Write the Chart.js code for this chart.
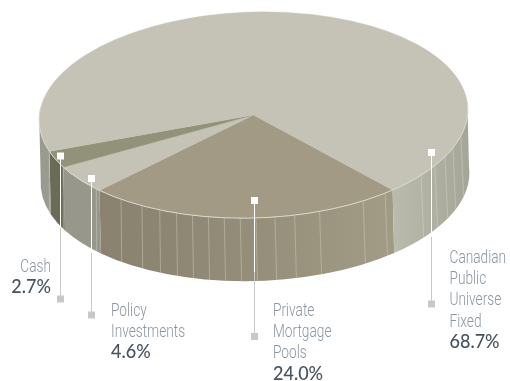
<!DOCTYPE html>
<html>
<head>
<meta charset="utf-8">
<style>
  html, body { margin: 0; padding: 0; background: #fff; }
  canvas { display: block; }
</style>
<script src="https://cdn.jsdelivr.net/npm/chart.js@4"></script>
</head>
<body>
<canvas id="pie" width="510" height="381"></canvas>
<script>
// Asset mix, in clockwise order from the lower-right seam of the disc
const categories = ['Private Mortgage Pools', 'Policy Investments', 'Cash', 'Canadian Public Universe Fixed'];
const shares = [24.0, 4.6, 2.7, 68.7];
const labelLines = [['Private', 'Mortgage', 'Pools'], ['Policy', 'Investments'], ['Cash'], ['Canadian', 'Public', 'Universe', 'Fixed']];
const topColors = ['#a29a85', '#c5c3b5', '#92927a', '#c5c3b5'];

// Disc geometry; the disc leans slightly, right side up, and its base sits a touch to the right
const DISC = { cx: 253.5, cy: 115, rx: 214.5, ry: 103, depth: 63, baseShift: 1.5, tilt: -1.8 * Math.PI / 180 };

// Colour ramps for the disc's side wall, left to right across the disc
const wallRamps = [
  [[0, '#877f6c'], [0.3, '#8d8672'], [0.8, '#a19a85'], [1, '#a19a85']],
  [[0, '#97978b'], [1, '#97978b']],
  [[0, '#6c6c56'], [1, '#6c6c56']],
  [[0, '#9a9b8f'], [0.1, '#9a9b8f'], [0.82, '#bcbcae'], [1, '#a6a698']]
];

// Angles (degrees clockwise from east) of the pale facet lines on the wall
const facetAngles = [129, 122.2, 116.8, 111.9, 107.4, 103, 98.7, 94.4, 90.2, 85.1, 79.8, 72.9, 60.1, 53,
  39.5, 33.1, 27.6, 22.4, 15.6, 138, 153.4, 163.1];

// Callouts: leader line top, where it turns grey, its foot, and the text block
const callouts = [
  { x: 254.5, top: 200.5, turn: 272, foot: 336, textX: 273, align: 'left', base: 316 },
  { x: 91.5, top: 178.5, turn: 253, foot: 314.5, textX: 111, align: 'left', base: 316 },
  { x: 60.5, top: 156, turn: 228, foot: 298.5, textX: 51, align: 'right', base: 272 },
  { x: 431.5, top: 152.5, turn: 237, foot: 303.5, textX: 449.5, align: 'left', base: 263 }
];

const LINE_STEP = 21.2;
const TAU = Math.PI * 2;

function fillEllipseBand(ctx, from, to) {
  const { cx, cy, rx, ry, depth, baseShift, tilt } = DISC;
  ctx.beginPath();
  ctx.ellipse(cx, cy, rx, ry, tilt, from, to, false);
  ctx.ellipse(cx + baseShift, cy + depth, rx, ry, tilt, to, from, true);
  ctx.closePath();
  ctx.fill();
}

function wallGradient(ctx, ramp) {
  const g = ctx.createLinearGradient(DISC.cx - DISC.rx, 0, DISC.cx + DISC.rx, 0);
  ramp.forEach(([stop, colour]) => g.addColorStop(stop, colour));
  return g;
}

function rimPoint(a) {
  const { cx, cy, rx, ry, tilt } = DISC;
  const px = rx * Math.cos(a);
  const py = ry * Math.sin(a);
  return {
    x: cx + px * Math.cos(tilt) - py * Math.sin(tilt),
    y: cy + px * Math.sin(tilt) + py * Math.cos(tilt)
  };
}

function drawWall(chart) {
  const ctx = chart.ctx;
  const arcs = chart.getDatasetMeta(0).data;
  arcs.forEach((arc, i) => {
    const { startAngle, endAngle } = arc.getProps(['startAngle', 'endAngle'], true);
    ctx.fillStyle = wallGradient(ctx, wallRamps[i]);
    // Only the part of the rim facing the viewer shows
    [0, TAU].forEach(turn => {
      const from = Math.max(startAngle, turn - 0.05);
      const to = Math.min(endAngle, turn + Math.PI + 0.05);
      if (to > from) fillEllipseBand(ctx, from, to);
    });
  });
  ctx.strokeStyle = 'rgba(222,222,212,0.38)';
  ctx.lineWidth = 1;
  facetAngles.forEach(deg => {
    const a = deg * Math.PI / 180;
    const p = rimPoint(a);
    ctx.beginPath();
    ctx.moveTo(p.x, p.y);
    ctx.lineTo(p.x + 1.5 * (1 + Math.cos(a)), p.y + DISC.depth);
    ctx.stroke();
  });
}

function drawText(ctx, str, x, y, align, font, colour, squeeze) {
  ctx.save();
  ctx.font = font;
  ctx.fillStyle = colour;
  ctx.textAlign = align;
  ctx.textBaseline = 'alphabetic';
  ctx.translate(x, y);
  ctx.scale(squeeze, 1);
  ctx.fillText(str, 0, 0);
  ctx.restore();
}

function drawCallouts(chart) {
  const ctx = chart.ctx;
  callouts.forEach((c, i) => {
    ctx.fillStyle = '#ffffff';
    ctx.fillRect(c.x - 0.5, c.top, 1, c.turn - c.top);
    ctx.fillStyle = '#c6c9c5';
    ctx.fillRect(c.x - 0.5, c.turn, 1, c.foot - c.turn);
    ctx.fillRect(Math.floor(c.x) - 3, c.foot - 3, 7, 7);
    ctx.fillStyle = '#ffffff';
    ctx.fillRect(Math.floor(c.x) - 3, c.top - 3.5, 7, 7);

    let y = c.base;
    labelLines[i].forEach(line => {
      drawText(ctx, line, c.textX, y, c.align, '300 18.5px Roboto', '#8a96a0', 0.74);
      y += LINE_STEP;
    });
    drawText(ctx, shares[i].toFixed(1) + '%', c.textX, y, c.align, '500 20px Lato', '#47545f', 0.9);
  });
}

// Draws the side wall, flattens the slices into an ellipse and adds rim and callouts
const discPlugin = {
  id: 'disc',
  beforeDatasetsDraw(chart) {
    const ctx = chart.ctx;
    drawWall(chart);
    ctx.save();
    ctx.translate(DISC.cx, DISC.cy);
    ctx.rotate(DISC.tilt);
    ctx.scale(1, DISC.ry / DISC.rx);
    ctx.translate(-DISC.cx, -DISC.cy);
  },
  afterDatasetsDraw(chart) {
    const ctx = chart.ctx;
    ctx.restore();
    ctx.strokeStyle = '#d8d8cc';
    ctx.lineWidth = 1;
    ctx.beginPath();
    ctx.ellipse(DISC.cx, DISC.cy, DISC.rx, DISC.ry, DISC.tilt, -0.05, Math.PI + 0.3);
    ctx.stroke();
    drawCallouts(chart);
  }
};

new Chart(document.getElementById('pie'), {
  type: 'pie',
  data: {
    labels: categories,
    datasets: [{
      data: shares,
      backgroundColor: topColors,
      borderColor: topColors,
      borderWidth: 0.5,
      clip: false
    }]
  },
  options: {
    responsive: false,
    animation: false,
    rotation: 140.4,
    radius: DISC.rx,
    layout: { padding: { left: 0, right: 3, top: 0, bottom: 151 } },
    plugins: { legend: { display: false }, tooltip: { enabled: false } }
  },
  plugins: [discPlugin]
});
</script>
</body>
</html>
